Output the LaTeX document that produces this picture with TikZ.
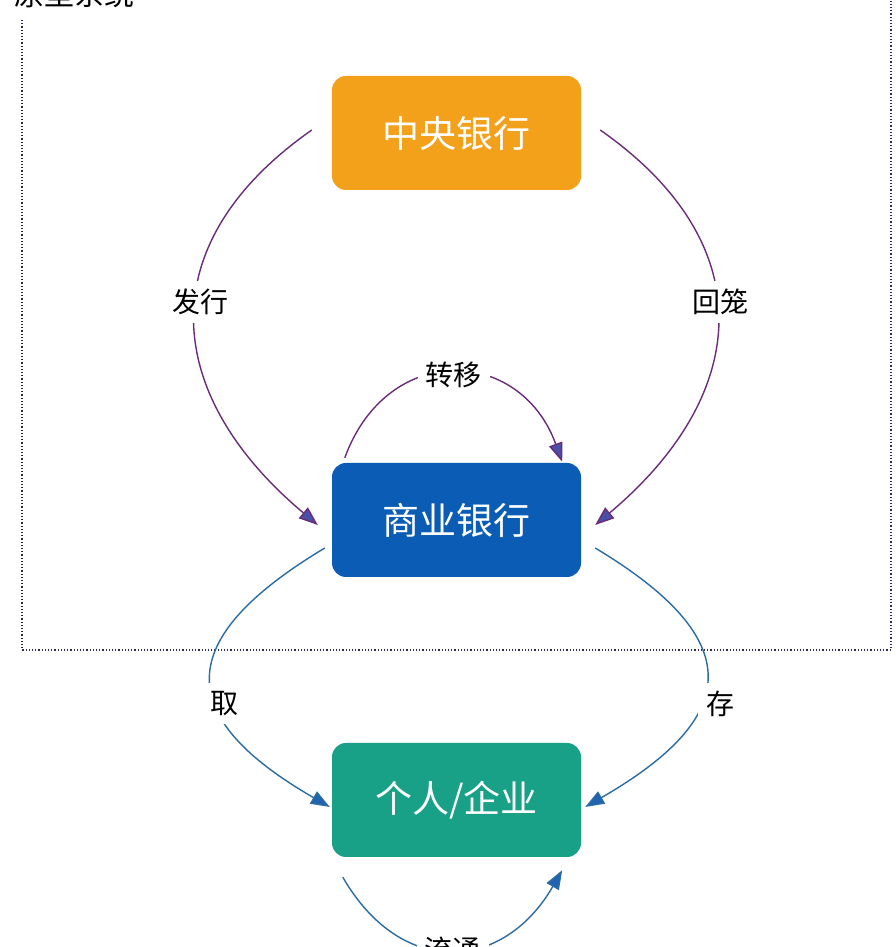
\documentclass[tikz,border=0pt]{standalone}
\usepackage{fontspec}
\usepackage{tikz}
\usetikzlibrary{arrows.meta}
\newfontfamily\cjk{Noto Sans CJK SC}
\definecolor{centralcolor}{HTML}{F3A01B}
\definecolor{commercialcolor}{HTML}{0B5CB4}
\definecolor{publiccolor}{HTML}{18A187}
\definecolor{purpleline}{HTML}{6A2C78}
\definecolor{purplehead}{HTML}{4A4FA8}
\definecolor{blueline}{HTML}{2B6CA3}
\definecolor{bluehead}{HTML}{2063B0}
\definecolor{dotcolor}{HTML}{2A2A55}

\begin{document}
\begin{tikzpicture}[x=1pt, y=1pt,
  box/.style={rounded corners=14pt, minimum width=249pt, minimum height=114pt, text=white, font=\cjk\fontsize{37}{40}\selectfont},
  flowlabel/.style={fill=white, inner sep=8pt, font=\cjk\fontsize{28}{30}\selectfont},
  purpleflow/.style={draw=purpleline, line width=1.4pt, -{Triangle[length=19pt,width=14pt,fill=purplehead]}},
  blueflow/.style={draw=blueline, line width=1.4pt, -{Triangle[length=19pt,width=14pt,fill=bluehead]}}]
\useasboundingbox (0,0) rectangle (896,947);
\fill[white] (0,0) rectangle (896,947);
\draw[dotted, line width=1.2pt, dotcolor] (22,927) -- (22,297) -- (891,297) -- (891,960);
\node[anchor=south west, inner sep=0pt, font=\cjk\fontsize{30}{34}\selectfont] (title) at (14,939) {原型系统};
\node[box, fill=centralcolor] (central) at (456.5,814) {中央银行};
\node[box, fill=commercialcolor] (commercial) at (456.5,427) {商业银行};
\node[box, fill=publiccolor] (public) at (456.5,147) {个人/企业};
%\draw (central) -- (commercial);
\draw[purpleflow] ([xshift=-20pt,yshift=3pt]central.west) to [out=215,in=140,looseness=1.3] node[flowlabel, pos=0.45, xshift=5pt] (issue) {发行} ([xshift=-14pt,yshift=-5pt]commercial.west);
\draw[purpleflow] ([xshift=19pt,yshift=3pt]central.east) to [out=-35,in=40,looseness=1.3] node[flowlabel, pos=0.45, xshift=4pt] (withdraw) {回笼} ([xshift=14pt,yshift=-5pt]commercial.east);
\draw[purpleflow] ([xshift=13pt,yshift=5pt]commercial.north west) to [out=70,in=110,looseness=1.45] node[flowlabel, yshift=-2pt] (transfer) {转移} ([xshift=-19pt,yshift=1pt]commercial.north east);
\draw[blueflow] ([xshift=-7pt,yshift=-28pt]commercial.west) to [out=211,in=150,looseness=1.77] node[flowlabel, pos=0.6, xshift=8pt] (take) {取} ([xshift=-2pt,yshift=-7pt]public.west);
\draw[blueflow] ([xshift=14pt,yshift=-28pt]commercial.east) to [out=-31,in=30,looseness=1.77] node[flowlabel, pos=0.6, xshift=20pt] (deposit) {存} ([xshift=4pt,yshift=-7pt]public.east);
\draw[blueflow] ([xshift=11pt,yshift=-20pt]public.south west) to [out=-60,in=240,looseness=1.37] node[flowlabel] (circulate) {流通} ([xshift=-19pt,yshift=-13pt]public.south east);
\end{tikzpicture}
\end{document}
